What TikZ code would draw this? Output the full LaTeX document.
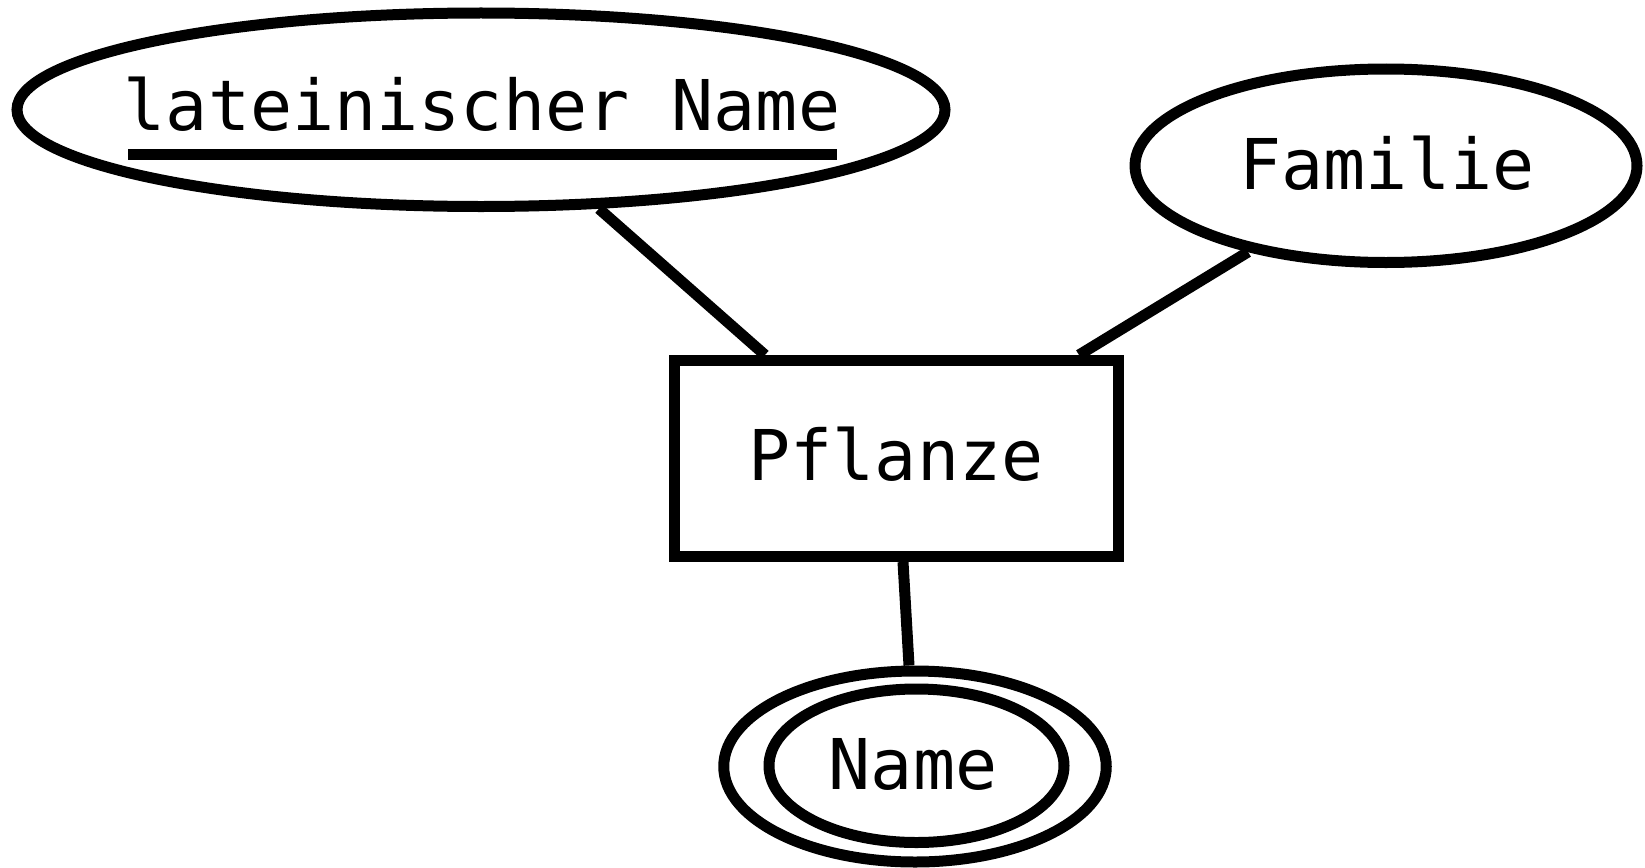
\documentclass[tikz,border=0pt]{standalone}
\usepackage{fontspec}
\setmonofont{DejaVu Sans Mono}
\usetikzlibrary{shapes.geometric}
\begin{document}
\begin{tikzpicture}[x=1pt,y=-1pt,line width=11pt,
  attr/.style={ellipse,draw,inner sep=0pt},
  ent/.style={rectangle,draw,inner sep=0pt},
  lbl/.style={font=\fontsize{70}{80}\selectfont\ttfamily,inner sep=0pt,anchor=base},
  conn/.style={line width=11pt}]
\useasboundingbox (0,0) rectangle (1645,867);
\fill[white] (0,0) rectangle (1645,867);
% shapes
\node[attr,minimum width=928pt,minimum height=193.5pt] (lat) at (481,109.75) {};
\node[attr,minimum width=502pt,minimum height=193.5pt] (fam) at (1386,165.75) {};
\node[ent,minimum width=444pt,minimum height=196pt] (pf) at (896.5,458.5) {};
\node[attr,minimum width=382.5pt,minimum height=191pt] (nm) at (915,766.5) {};
\node[attr,minimum width=295pt,minimum height=153.5pt] (nmi) at (916.5,765.75) {};
% labels
\node[lbl] (latt) at (482,130) {lateinischer Name};
\node[lbl] (famt) at (1387,189) {Familie};
\node[lbl] (pft) at (896,480.5) {Pflanze};
\node[lbl] (nmt) at (913,789) {Name};
\draw[line width=11pt] ([xshift=10pt,yshift=-24pt]latt.base west) -- ([xshift=-9pt,yshift=-24pt]latt.base east);
% connectors
\draw[conn] (lat.-40) -- ([xshift=96pt]pf.north west);
\draw[conn] (fam.-148) -- ([xshift=-45pt]pf.north east);
\draw[conn] ([xshift=6.5pt]pf.south) -- ([xshift=-6pt]nm.north);
\end{tikzpicture}
\end{document}
